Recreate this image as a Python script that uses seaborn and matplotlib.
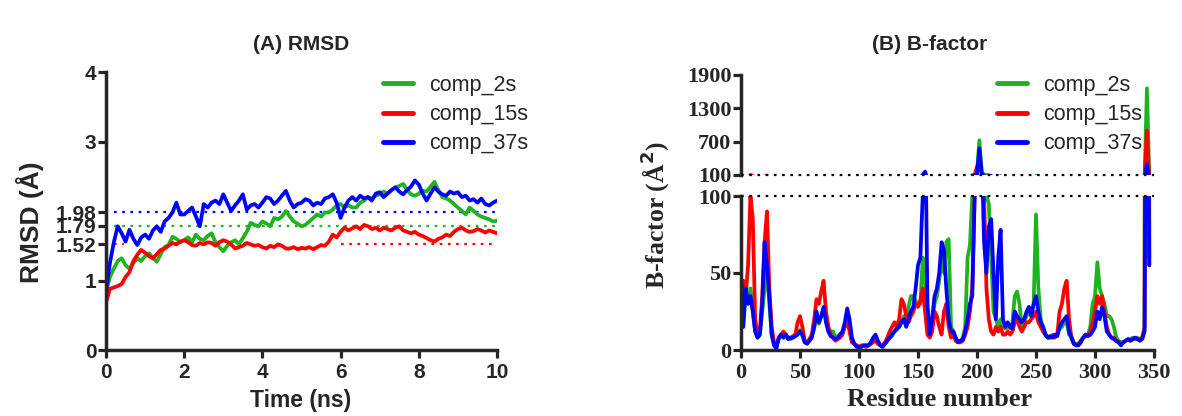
import numpy as np
import pandas as pd
import matplotlib
matplotlib.use("Agg")
import matplotlib.pyplot as plt
from matplotlib.lines import Line2D
import seaborn as sns

# ---- data ----
series = ["comp_2s", "comp_15s", "comp_37s"]
colors = ["#1fb41f", "#ff0000", "#0000ff"]

time_ns = np.round(np.arange(0, 10.01, 0.1), 1)
rmsd_2s = [0.83, 1.05, 1.17, 1.28, 1.32, 1.22, 1.17, 1.25, 1.32, 1.28,
           1.35, 1.39, 1.32, 1.27, 1.38, 1.48, 1.51, 1.63, 1.60, 1.55,
           1.58, 1.62, 1.55, 1.66, 1.60, 1.58, 1.64, 1.68, 1.55, 1.48,
           1.42, 1.50, 1.55, 1.58, 1.52, 1.61, 1.70, 1.83, 1.80, 1.78,
           1.85, 1.82, 1.78, 1.90, 1.88, 1.92, 2.00, 1.92, 1.85, 1.82,
           1.78, 1.80, 1.85, 1.90, 1.95, 1.92, 1.98, 1.98, 2.02, 2.08,
           2.10, 2.05, 2.08, 2.05, 2.05, 2.12, 2.15, 2.20, 2.18, 2.22,
           2.24, 2.28, 2.25, 2.30, 2.34, 2.36, 2.39, 2.30, 2.24, 2.22,
           2.25, 2.29, 2.28, 2.35, 2.42, 2.30, 2.20, 2.18, 2.15, 2.10,
           2.05, 2.00, 1.95, 2.05, 2.00, 1.95, 1.92, 1.90, 1.88, 1.85, 1.86]
rmsd_15s = [0.68, 0.88, 0.90, 0.92, 0.95, 1.05, 1.12, 1.28, 1.37, 1.44,
            1.40, 1.35, 1.32, 1.38, 1.44, 1.46, 1.50, 1.54, 1.52, 1.56,
            1.58, 1.55, 1.51, 1.50, 1.54, 1.52, 1.55, 1.54, 1.50, 1.55,
            1.58, 1.56, 1.52, 1.46, 1.48, 1.50, 1.54, 1.52, 1.50, 1.51,
            1.48, 1.46, 1.50, 1.48, 1.52, 1.50, 1.46, 1.46, 1.48, 1.45,
            1.47, 1.46, 1.48, 1.45, 1.48, 1.51, 1.50, 1.56, 1.66, 1.62,
            1.70, 1.76, 1.72, 1.75, 1.78, 1.74, 1.80, 1.78, 1.74, 1.76,
            1.72, 1.76, 1.74, 1.72, 1.76, 1.78, 1.72, 1.70, 1.68, 1.70,
            1.66, 1.64, 1.61, 1.58, 1.56, 1.60, 1.62, 1.66, 1.64, 1.70,
            1.74, 1.76, 1.72, 1.70, 1.71, 1.74, 1.72, 1.69, 1.72, 1.70, 1.68]
rmsd_37s = [0.83, 1.25, 1.55, 1.78, 1.68, 1.56, 1.73, 1.60, 1.51, 1.62,
            1.66, 1.60, 1.72, 1.78, 1.70, 1.85, 1.90, 1.98, 2.12, 1.95,
            1.95, 2.00, 2.05, 1.92, 1.78, 2.10, 2.05, 2.12, 2.15, 2.10,
            2.24, 2.12, 2.00, 2.08, 2.15, 2.24, 2.02, 2.08, 2.10, 2.05,
            2.12, 2.20, 2.18, 2.10, 2.15, 2.22, 2.29, 2.15, 2.05, 2.10,
            2.12, 2.17, 2.15, 2.08, 2.12, 2.10, 2.18, 2.20, 2.24, 2.12,
            1.90, 2.05, 2.15, 2.20, 2.15, 2.22, 2.18, 2.20, 2.15, 2.25,
            2.27, 2.20, 2.25, 2.30, 2.34, 2.28, 2.24, 2.30, 2.35, 2.44,
            2.38, 2.25, 2.15, 2.25, 2.34, 2.28, 2.24, 2.22, 2.28, 2.25,
            2.27, 2.20, 2.22, 2.15, 2.17, 2.12, 2.18, 2.10, 2.08, 2.12, 2.15]
rmsd_ticks = [0, 1, 1.52, 1.79, 1.98, 3, 4]
# mean lines: (value, t_start, t_end, series index)
rmsd_means = [(1.98, 0.2, 10, 2), (1.79, 0.2, 10, 0), (1.52, 0.2, 0.45, 1), (1.52, 6.0, 10, 1)]

residue = np.arange(0, 347, 2)
bf_2s = [40, 20, 35, 30, 40, 25, 12, 8, 10, 25,
         40, 50, 30, 10, 4, 2, 7, 9, 8, 9,
         8, 7, 8, 9, 11, 13, 9, 5, 5, 6,
         9, 14, 22, 17, 22, 27, 24, 14, 12, 12,
         8, 9, 10, 12, 15, 22, 14, 6, 4, 3,
         2, 2, 3, 3, 3, 4, 6, 8, 5, 3,
         3, 4, 6, 8, 9, 12, 13, 15, 18, 22,
         20, 28, 35, 35, 32, 30, 30, 60, 45, 15,
         12, 18, 30, 35, 45, 60, 50, 70, 72, 15,
         12, 6, 5, 6, 8, 15, 60, 68, 100, 100,
         150, 724, 160, 100, 100, 95, 60, 25, 20, 15,
         20, 15, 14, 15, 14, 18, 35, 38, 30, 15,
         18, 22, 25, 22, 30, 88, 40, 20, 15, 10,
         9, 8, 10, 9, 10, 14, 15, 18, 18, 10,
         9, 5, 4, 4, 6, 8, 9, 10, 15, 30,
         35, 57, 40, 35, 30, 22, 22, 20, 15, 8,
         6, 5, 5, 6, 7, 7, 8, 7, 8, 7,
         8, 15, 1660, 60]
bf_15s = [30, 45, 35, 55, 100, 85, 20, 10, 12, 35,
          70, 90, 40, 15, 5, 3, 8, 10, 12, 10,
          8, 8, 9, 10, 18, 22, 15, 6, 5, 7,
          10, 20, 33, 30, 38, 45, 25, 15, 10, 8,
          6, 7, 8, 10, 15, 20, 12, 5, 4, 3,
          2, 3, 3, 2, 3, 4, 5, 6, 4, 3,
          3, 5, 8, 12, 15, 18, 15, 20, 33, 30,
          22, 18, 22, 25, 30, 28, 32, 40, 25, 10,
          8, 12, 25, 22, 15, 10, 25, 30, 15, 8,
          10, 6, 5, 5, 6, 10, 15, 25, 40, 100,
          250, 300, 120, 100, 40, 20, 12, 10, 15, 12,
          15, 10, 10, 12, 10, 12, 18, 20, 15, 12,
          15, 18, 18, 20, 22, 25, 18, 15, 12, 10,
          8, 8, 9, 8, 10, 25, 30, 40, 45, 20,
          8, 4, 3, 4, 6, 8, 9, 10, 12, 18,
          25, 35, 30, 35, 25, 15, 10, 8, 8, 6,
          5, 4, 5, 6, 7, 6, 7, 8, 7, 7,
          8, 14, 900, 55]
bf_37s = [50, 15, 40, 30, 35, 25, 12, 8, 10, 30,
          70, 55, 35, 10, 3, 1, 8, 10, 8, 10,
          7, 8, 8, 9, 10, 12, 10, 5, 4, 6,
          8, 15, 25, 18, 22, 28, 18, 12, 9, 8,
          7, 8, 10, 12, 18, 27, 20, 8, 4, 2,
          2, 2, 3, 3, 3, 5, 8, 10, 6, 3,
          2, 4, 6, 8, 10, 12, 14, 15, 18, 20,
          15, 20, 25, 28, 40, 55, 60, 100, 160, 30,
          10, 20, 35, 40, 50, 70, 65, 40, 20, 12,
          12, 8, 5, 6, 7, 12, 20, 30, 35, 100,
          110, 580, 130, 70, 50, 80, 85, 50, 20, 60,
          78, 20, 15, 18, 15, 14, 25, 22, 20, 18,
          20, 25, 28, 22, 30, 35, 25, 18, 15, 10,
          8, 9, 8, 10, 9, 15, 18, 20, 22, 12,
          8, 4, 3, 3, 5, 8, 10, 9, 10, 12,
          15, 25, 20, 28, 22, 12, 10, 8, 7, 6,
          5, 3, 5, 6, 7, 6, 7, 8, 7, 6,
          7, 12, 300, 55]

rmsd = pd.DataFrame({"time": np.tile(time_ns, 3),
                     "rmsd": rmsd_2s + rmsd_15s + rmsd_37s,
                     "comp": np.repeat(series, len(time_ns))})
bfac = pd.DataFrame({"res": np.tile(residue, 3),
                     "bf": bf_2s + bf_15s + bf_37s,
                     "comp": np.repeat(series, len(residue))})

sns.set_style("ticks")
plt.rcParams["font.family"] = ["Liberation Sans", "DejaVu Sans"]
SERIF = ["Liberation Serif", "DejaVu Serif"]
pal = dict(zip(series, colors))

W, H = 1182, 416
fig = plt.figure(figsize=(W / 100, H / 100), dpi=100)


def px(x0, y0, x1, y1):
    # pixel box (top-left origin) -> figure fraction rect
    return [x0 / W, 1 - y1 / H, (x1 - x0) / W, (y1 - y0) / H]


def style(ax, size, family=None, bottom=True, xpad=3, ypad=1):
    for s in ["left", "bottom"]:
        ax.spines[s].set_linewidth(2.5)
    sns.despine(ax=ax)
    if not bottom:
        ax.spines["bottom"].set_visible(False)
        ax.tick_params(axis="x", bottom=False, labelbottom=False)
    ax.tick_params(width=2.3, length=6, labelsize=size)
    ax.tick_params(axis="x", pad=xpad)
    ax.tick_params(axis="y", pad=ypad)
    for lbl in ax.get_xticklabels() + ax.get_yticklabels():
        lbl.set_fontweight("bold")
        if family:
            lbl.set_family(family)


# ---- (A) RMSD ----
axA = fig.add_axes(px(106, 72, 497, 350))
sns.lineplot(data=rmsd, x="time", y="rmsd", hue="comp", palette=pal,
             linewidth=2.7, legend=False, ax=axA, sort=False)
for val, t0, t1, i in rmsd_means:
    axA.plot([t0, t1], [val, val], ls=(0, (1.2, 2.5)), color=colors[i], lw=1.6, zorder=1)
axA.set_xlim(0, 10)
axA.set_ylim(0, 4)
axA.set_xticks([0, 2, 4, 6, 8, 10])
axA.set_yticks(rmsd_ticks)
axA.set_yticklabels([f"{v:g}" for v in rmsd_ticks])
axA.set_xlabel("")
axA.set_ylabel("")
style(axA, 15)
fig.text(301 / W, 1 - 45 / H, "(A) RMSD", ha="center", va="center", fontsize=15, fontweight="bold")
fig.text(301 / W, 1 - 400 / H, "Time (ns)", ha="center", va="center", fontsize=16.5, fontweight="bold")
fig.text(30 / W, 1 - 222 / H, "RMSD (Å)", rotation=90, ha="center", va="center",
         fontsize=19, fontweight="bold")

# ---- (B) B-factor, broken axis ----
axL = fig.add_axes(px(741, 196, 1154, 350))
axU = fig.add_axes(px(741, 75, 1154, 175), sharex=axL)
for ax in (axL, axU):
    sns.lineplot(data=bfac, x="res", y="bf", hue="comp", palette=pal,
                 linewidth=2.7, legend=False, ax=ax, sort=False)
    ax.set_xlabel("")
    ax.set_ylabel("")
axL.set_xlim(0, 350)
axL.set_ylim(0, 100)
axL.set_yticks([0, 50, 100])
axL.set_xticks([0, 50, 100, 150, 200, 250, 300, 350])
axU.set_ylim(100, 1900)
axU.set_yticks([100, 700, 1300, 1900])
axL.axhline(100, ls=(0, (1.2, 2.5)), color="black", lw=1.6, clip_on=False, zorder=5)
axU.axhline(100, ls=(0, (1.2, 2.5)), color="black", lw=1.6, clip_on=False, zorder=5)
style(axL, 16, SERIF)
style(axU, 16, SERIF, bottom=False)
fig.text(930 / W, 1 - 45 / H, "(B) B-factor", ha="center", va="center", fontsize=15, fontweight="bold")
fig.text(940 / W, 1 - 400 / H, "Residue number", ha="center", va="center", fontsize=19,
         fontweight="bold", family=SERIF)
fig.text(655 / W, 1 - 215 / H, "B-factor (Å$^{\\mathbf{2}}$)", rotation=90,
         ha="center", va="center", fontsize=18.5, fontweight="bold", family=SERIF)

# ---- legends ----
handles = [Line2D([], [], color=c, lw=3.5) for c in colors]
for ax, x0 in ((axA, 383), (axU, 997)):
    ax.legend(handles, series, loc="upper left", bbox_to_anchor=(x0 / W, 1 - 75 / H),
              bbox_transform=fig.transFigure, frameon=False, fontsize=15.5,
              handlelength=1.4, handletextpad=0.75, labelspacing=0.38,
              borderpad=0, borderaxespad=0)

fig.savefig("out.png", dpi=100)
